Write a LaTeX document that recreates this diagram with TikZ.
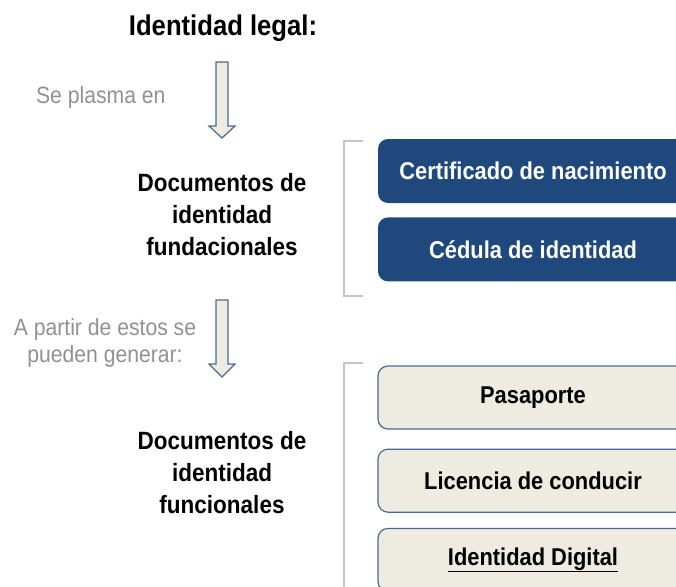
\documentclass[tikz,border=0pt]{standalone}
\usepackage{fontspec}
\setmainfont[FakeStretch=0.9]{Liberation Sans}
\usetikzlibrary{positioning}
\definecolor{navy}{RGB}{31,73,125}
\definecolor{paper}{RGB}{238,236,225}
\definecolor{edge}{RGB}{72,106,152}
\definecolor{note}{RGB}{145,145,145}
\definecolor{rulegray}{RGB}{196,196,196}
\tikzset{heading/.style={font=\fontsize{25}{32}\selectfont\bfseries,
                         align=center},
         remark/.style={font=\fontsize{23.5}{27}\selectfont,
                        text=note,
                        align=center},
         darkbox/.style={rectangle,
                         rounded corners=10pt,
                         fill=navy,
                         text=white,
                         font=\fontsize{24.3}{28}\selectfont\bfseries,
                         minimum width=310pt,
                         minimum height=64pt},
         lightbox/.style={rectangle,
                          rounded corners=10pt,
                          draw=edge,
                          line width=1.2pt,
                          fill=paper,
                          font=\fontsize{24.3}{28}\selectfont\bfseries,
                          minimum width=310pt,
                          minimum height=63pt},
         blockarrow/.style={draw=edge, fill=paper, line width=1.2pt,
                            line join=miter},
         bracket/.style={draw=rulegray, line width=1.2pt}}

\begin{document}
\begin{tikzpicture}[x=1pt,y=-1pt]
    \useasboundingbox (0,0) rectangle (676,586);
    % We start by placing the headings
    \node [font=\fontsize{28.5}{32}\selectfont\bfseries] (title) at (223,28) {Identidad legal:};
    \node [heading] (fund) at (222,215) {Documentos de\\identidad\\fundacionales};
    \node [heading] (func) at (222,473) {Documentos de\\identidad\\funcionales};
    % the gray notes next to the arrows
    \node [remark, anchor=east] (plasma) at (169,97) {Se plasma en};
    \node [remark] (partir) at (105,343) {A partir de estos se\\pueden generar:};
    % the block arrows
    \coordinate (arrA) at (222,62);
    \coordinate (arrB) at (222,300);
    \draw [blockarrow] (arrA) ++(-6,0) -- ++(12,0) -- ++(0,64) -- ++(7,0)
        -- ++(-13,12) -- ++(-13,-12) -- ++(7,0) -- cycle;
    \draw [blockarrow] (arrB) ++(-6,0) -- ++(12,0) -- ++(0,64) -- ++(7,0)
        -- ++(-13,13) -- ++(-13,-13) -- ++(7,0) -- cycle;
    % the documents
    \node [darkbox] (cert) at (533,171) {Certificado de nacimiento};
    \node [darkbox, below=14pt of cert] (cedula) {Cédula de identidad};
    \node [lightbox] (pasaporte) at (533,397.5) {Pasaporte};
    \node [lightbox, below=19pt of pasaporte] (licencia) {Licencia de conducir};
    \node [lightbox, below=15pt of licencia] (digital) {\underline{Identidad Digital}};
    % brackets grouping the documents
    \coordinate (brA) at (363,141);
    \coordinate (brB) at (363,363);
    \draw [bracket] (brA) -| (344,296) -- (363,296);
    \draw [bracket] (brB) -| (344,600);
\end{tikzpicture}
\end{document}
